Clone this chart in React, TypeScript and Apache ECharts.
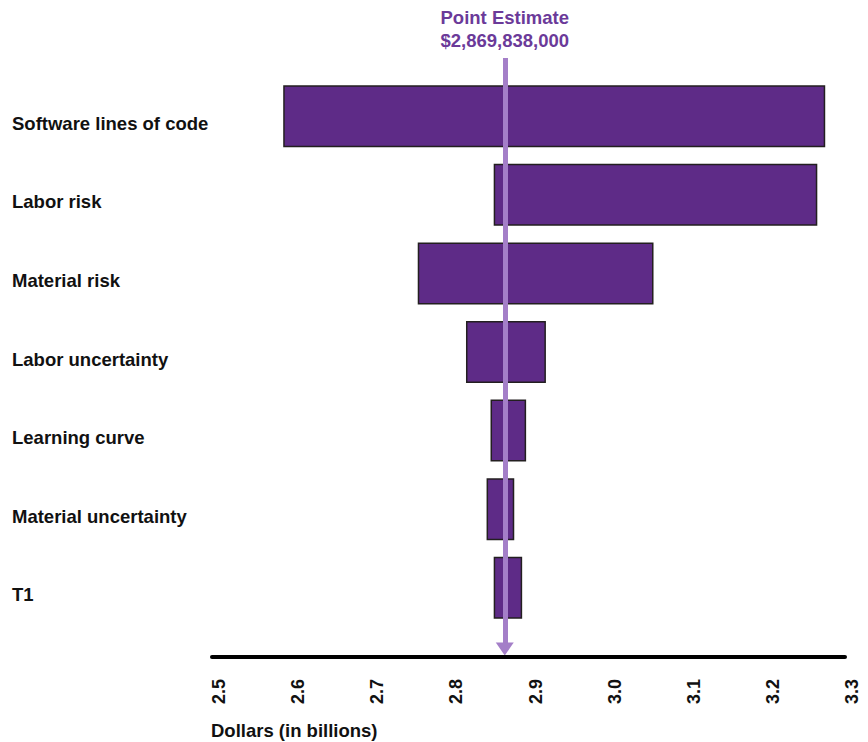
import React, { useEffect, useRef } from "react";
import * as echarts from "echarts";

const categories = [
  "Software lines of code",
  "Labor risk",
  "Material risk",
  "Labor uncertainty",
  "Learning curve",
  "Material uncertainty",
  "T1",
];
const lowValues = [2.59, 2.856, 2.76, 2.821, 2.852, 2.847, 2.856];
const highValues = [3.275, 3.265, 3.058, 2.922, 2.897, 2.882, 2.892];
const pointEstimate = 2.869838;
const pointEstimateLabel = "$2,869,838,000";
const axisMin = 2.5;
const axisMax = 3.3;
const axisStep = 0.1;
const axisTitle = "Dollars (in billions)";

const FONT = "'Liberation Sans', Arial, sans-serif";

export default function App() {
  const ref = useRef<HTMLDivElement>(null);
  useEffect(() => {
    document.body.style.margin = "0";
    const chart = echarts.init(ref.current!, null, { renderer: "svg" });
    const spans = highValues.map((h, i) => +(h - lowValues[i]).toFixed(4));
    chart.setOption({
      animation: false,
      backgroundColor: "#ffffff",
      textStyle: { fontFamily: FONT },
      title: {
        text: axisTitle,
        left: 211,
        top: 721,
        padding: 0,
        textStyle: { fontFamily: FONT, fontSize: 18.5, fontWeight: "bold", color: "#111111" },
      },
      grid: [
        { left: 212, right: 23, top: 77, bottom: 115 },
        { left: 212, right: 23, top: 58, bottom: 93 },
      ],
      xAxis: [
        {
          gridIndex: 0,
          type: "value",
          min: axisMin,
          max: axisMax,
          interval: axisStep,
          show: false,
        },
        {
          gridIndex: 1,
          type: "value",
          position: "bottom",
          min: axisMin,
          max: axisMax,
          interval: axisStep,
          offset: 8,
          z: 10,
          axisLine: { show: true, onZero: false, lineStyle: { color: "#000000", width: 4 } },
          axisTick: { show: false },
          splitLine: { show: false },
          axisLabel: {
            rotate: 90,
            margin: 22,
            verticalAlign: "top",
            lineHeight: 14,
            fontFamily: FONT,
            fontSize: 18,
            fontWeight: "bold",
            color: "#111111",
            formatter: (v: number) => v.toFixed(1),
          },
        },
      ],
      yAxis: [
        {
          gridIndex: 0,
          type: "category",
          data: categories,
          inverse: true,
          axisLine: { show: false },
          axisTick: { show: false },
          splitLine: { show: false },
          axisLabel: {
            align: "left",
            margin: 200,
            verticalAlign: "top",
            lineHeight: 14,
            fontFamily: FONT,
            fontSize: 18.5,
            fontWeight: "bold",
            color: "#111111",
          },
        },
        {
          gridIndex: 1,
          type: "value",
          min: 0,
          max: 1,
          inverse: true,
          show: false,
        },
      ],
      series: [
        {
          type: "scatter",
          xAxisIndex: 1,
          yAxisIndex: 1,
          data: [[pointEstimate, 0.5]],
          symbolSize: 0,
          silent: true,
          z: 1,
          markLine: {
            silent: true,
            symbol: ["none", "triangle"],
            symbolSize: [18, 13],
            lineStyle: { color: "#a47fc8", width: 5, type: "solid" },
            label: {
              show: true,
              position: "start",
              distance: 6,
              formatter: "Point Estimate\n" + pointEstimateLabel,
              fontFamily: FONT,
              fontSize: 18.5,
              fontWeight: "bold",
              lineHeight: 23,
              color: "#6b3a99",
            },
            data: [{ xAxis: pointEstimate }],
          },
        },
        {
          type: "bar",
          xAxisIndex: 0,
          yAxisIndex: 0,
          stack: "range",
          data: lowValues,
          barWidth: 62,
          silent: true,
          itemStyle: { color: "transparent" },
          z: 3,
        },
        {
          type: "bar",
          xAxisIndex: 0,
          yAxisIndex: 0,
          stack: "range",
          data: spans,
          barWidth: 62,
          itemStyle: { color: "#5e2b87", borderColor: "#231f20", borderWidth: 1.5 },
          z: 3,
        },
      ],
    });
    return () => chart.dispose();
  }, []);
  return (
    <div
      ref={ref}
      style={{ position: "fixed", left: 0, top: 0, width: 868, height: 742 }}
    />
  );
}
